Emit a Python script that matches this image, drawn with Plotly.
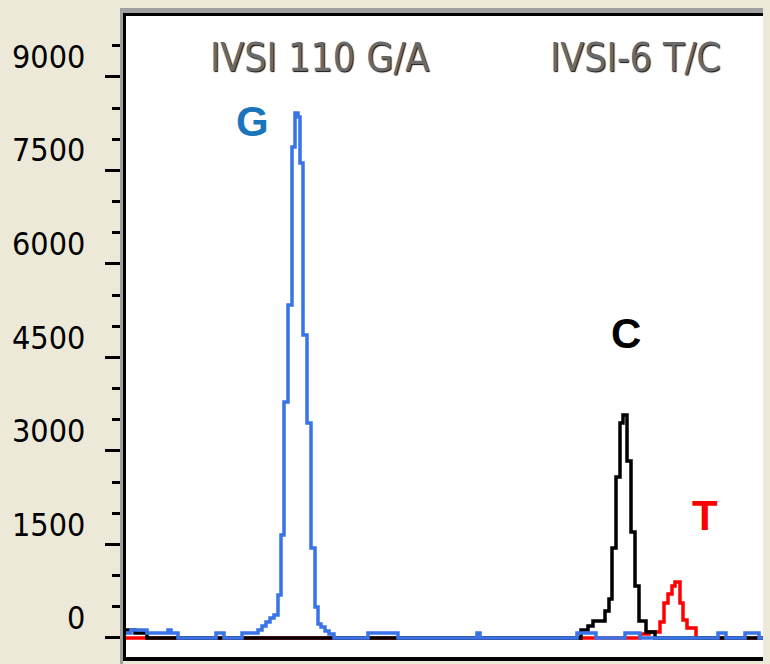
import plotly.graph_objects as go

# ---- data (scan position, arbitrary units ; intensity, RFU) ----
blue_scan = [0, 5, 21, 42, 45, 52, 90, 98, 116, 132, 136, 140, 144, 148, 152, 155, 158, 162, 166,
             169, 172, 174, 177, 181, 185, 189, 192, 195, 199, 203, 208, 242, 272, 351, 354,
             451, 470, 499, 514, 592, 600, 619, 633, 637]
blue_rfu = [80, 130, 80, 130, 80, 0, 80, 0, 80, 130, 193, 257, 321, 369, 690, 1652, 3786, 5341, 7876,
            8421, 8357, 7619, 4860, 3449, 1444, 497, 225, 176, 112, 64, 0, 80, 0, 80, 0,
            80, 0, 80, 0, 80, 0, 80, 0, 0]

black_scan = [0, 9, 21, 455, 462, 467, 479, 483, 486, 490, 494, 497, 501, 505, 509, 513, 520, 529, 637]
black_rfu = [130, 80, 0, 128, 193, 273, 433, 626, 1444, 2583, 3449, 3577, 2839, 1700, 834, 273, 96, 0, 0]

red_scan = [0, 514, 523, 534, 538, 542, 546, 549, 554, 557, 561, 570, 637]
red_rfu = [0, 64, 96, 257, 561, 706, 834, 898, 561, 289, 160, 0, 0]

tick_vals = [0, 1500, 3000, 4500, 6000, 7500, 9000]
tick_text = ["0", "1500", "3000", "4500", "6000", "7500", "9000"]

titles = ["IVSI 110 G/A", "IVSI-6 T/C"]
peak_labels = ["G", "C", "T"]

# ---- layout geometry ----
W, H = 770, 664
ML, MR, MT, MB = 126, 7, 16, 7
PW, PH = W - ML - MR, H - MT - MB


def px_x(p):
    return (p - ML) / PW


def px_y(p):
    return (H - MB - p) / PH


NARROW = "DejaVu Sans Condensed, Liberation Sans Narrow, Arial Narrow, sans-serif"
BOLD = "Liberation Sans, Arial, sans-serif"

fig = go.Figure()
fig.add_trace(go.Scatter(x=red_scan, y=red_rfu, mode="lines",
                         line=dict(color="#FF0000", width=3.5, shape="hv"), showlegend=False))
fig.add_trace(go.Scatter(x=black_scan, y=black_rfu, mode="lines",
                         line=dict(color="#000000", width=3.5, shape="hv"), showlegend=False))
fig.add_trace(go.Scatter(x=blue_scan, y=blue_rfu, mode="lines",
                         line=dict(color="#3874E8", width=3.5, shape="hv"), showlegend=False))

ann = []
# y tick labels (drawn raised above their ticks as in the original)
for v, t in zip(tick_vals, tick_text):
    ann.append(dict(x=px_x(87), y=v + 320, xref="paper", yref="y", text=t, showarrow=False,
                    xanchor="right", yanchor="middle",
                    font=dict(family=NARROW, size=32, color="#000000")))
# titles
for t, cx in zip(titles, [319, 635]):
    ann.append(dict(x=px_x(cx), y=px_y(58), xref="paper", yref="paper", text=t, showarrow=False,
                    xanchor="center", yanchor="middle",
                    font=dict(family=NARROW, size=39, color="#6A6A6A",
                              shadow="1px 1px 1px #111111")))
# peak letters
for t, cx, cy, col in zip(peak_labels, [252, 626, 705], [121, 333, 515],
                          ["#1B75BC", "#000000", "#FF0000"]):
    ann.append(dict(x=px_x(cx), y=px_y(cy), xref="paper", yref="paper", text="<b>%s</b>" % t,
                    showarrow=False, xanchor="center", yanchor="middle",
                    font=dict(family=BOLD, size=42, color=col)))

shapes = [
    dict(type="rect", xref="paper", yref="paper", x0=px_x(120), x1=px_x(123),
         y0=px_y(664), y1=px_y(8), fillcolor="#A0A0A0", line=dict(width=0), layer="above"),
    dict(type="rect", xref="paper", yref="paper", x0=px_x(120), x1=px_x(763),
         y0=px_y(13), y1=px_y(8), fillcolor="#A0A0A0", line=dict(width=0), layer="above"),
]

fig.update_layout(
    width=W, height=H,
    margin=dict(l=ML, r=MR, t=MT, b=MB, pad=0),
    paper_bgcolor="#ECE9D8", plot_bgcolor="#FFFFFF",
    xaxis=dict(range=[0, 637], showgrid=False, zeroline=False, showticklabels=False, ticks="",
               showline=True, linecolor="#000000", linewidth=4, mirror=True, fixedrange=True),
    yaxis=dict(range=[-305, 9977], tickvals=tick_vals, ticks="outside", ticklen=18, tickwidth=3,
               tickcolor="#000000", showticklabels=False, showgrid=False, zeroline=False,
               showline=True, linecolor="#000000", linewidth=3,
               minor=dict(tick0=0, dtick=500, ticks="outside", ticklen=11, tickwidth=3,
                          tickcolor="#000000", showgrid=False)),
    annotations=ann, shapes=shapes, showlegend=False,
)

fig.write_html("out.html")
